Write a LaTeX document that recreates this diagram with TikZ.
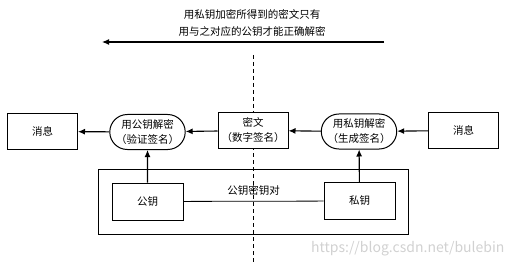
\documentclass[tikz,border=0pt]{standalone}
\usepackage{fontspec}
\setmainfont{Noto Sans CJK SC}
\usepackage{tikz}
\usetikzlibrary{arrows.meta,positioning,shapes.misc}

\begin{document}
\begin{tikzpicture}[
  x=1pt, y=-1pt,
  >={Latex[length=7pt,width=6pt]},
  every node/.style={font=\fontsize{10.5}{15}\selectfont},
  box/.style={draw, fill=white, line width=1pt, minimum width=70pt, minimum height=36pt, inner sep=0pt, align=center},
  keybox/.style={draw, fill=white, line width=.9pt, minimum width=71pt, minimum height=37pt, inner sep=0pt},
  oval/.style={draw, fill=white, line width=1pt, rounded rectangle, minimum width=69pt, minimum height=35pt, inner sep=1pt, align=center},
  link/.style={->, line width=1.1pt}
]
\useasboundingbox (0,0) rectangle (516,267);

% top note
\node[align=center, font=\fontsize{10.5}{17}\selectfont] (note) at (252,23) {用私钥加密所得到的密文只有\\用与之对应的公钥才能正确解密};
\coordinate (ra) at (384,42);
\coordinate (la) at (102,42);
\draw[link] (ra) -- (la);

% middle divider
\coordinate (dtop) at (253,55);
\coordinate (dbot) at (253,263);
\draw[line width=.9pt, dash pattern=on 4pt off 3pt] (dtop) -- (dbot);

% key pair frame
\node[draw, line width=1pt, minimum width=310pt, minimum height=65pt, inner sep=0pt] (pair) at (253,201.5) {};
\node[keybox] (pub) at (147.5,201.5) {公钥};
\node[keybox] (priv) at (359.5,201) {私钥};
\draw[line width=.8pt] (pub) -- node[above=2pt]{公钥密钥对} (priv);

% main row
\node[box] (msgL) at (42.5,131.5) {消息};
\node[oval] (verify) at (147.5,132) {用公钥解密\\（验证签名）};
\node[box] (cipher) at (253,130.5) {密文\\（数字签名）};
\node[oval] (sign) at (359,131.5) {用私钥解密\\（生成签名）};
\node[box] (msgR) at (463.5,130.5) {消息};

\draw[link] (msgR) -- (sign);
\draw[link] (sign) -- (cipher);
\draw[link] (cipher) -- (verify);
\draw[link] (verify) -- (msgL);
\draw[link] (pub) -- (verify);
\draw[link] (priv) -- (sign);

% watermark
\node[text=black!18, font=\fontsize{14}{16}\selectfont, anchor=east] (mark) at (508,249) {https://blog.csdn.net/bulebin};
\end{tikzpicture}
\end{document}
